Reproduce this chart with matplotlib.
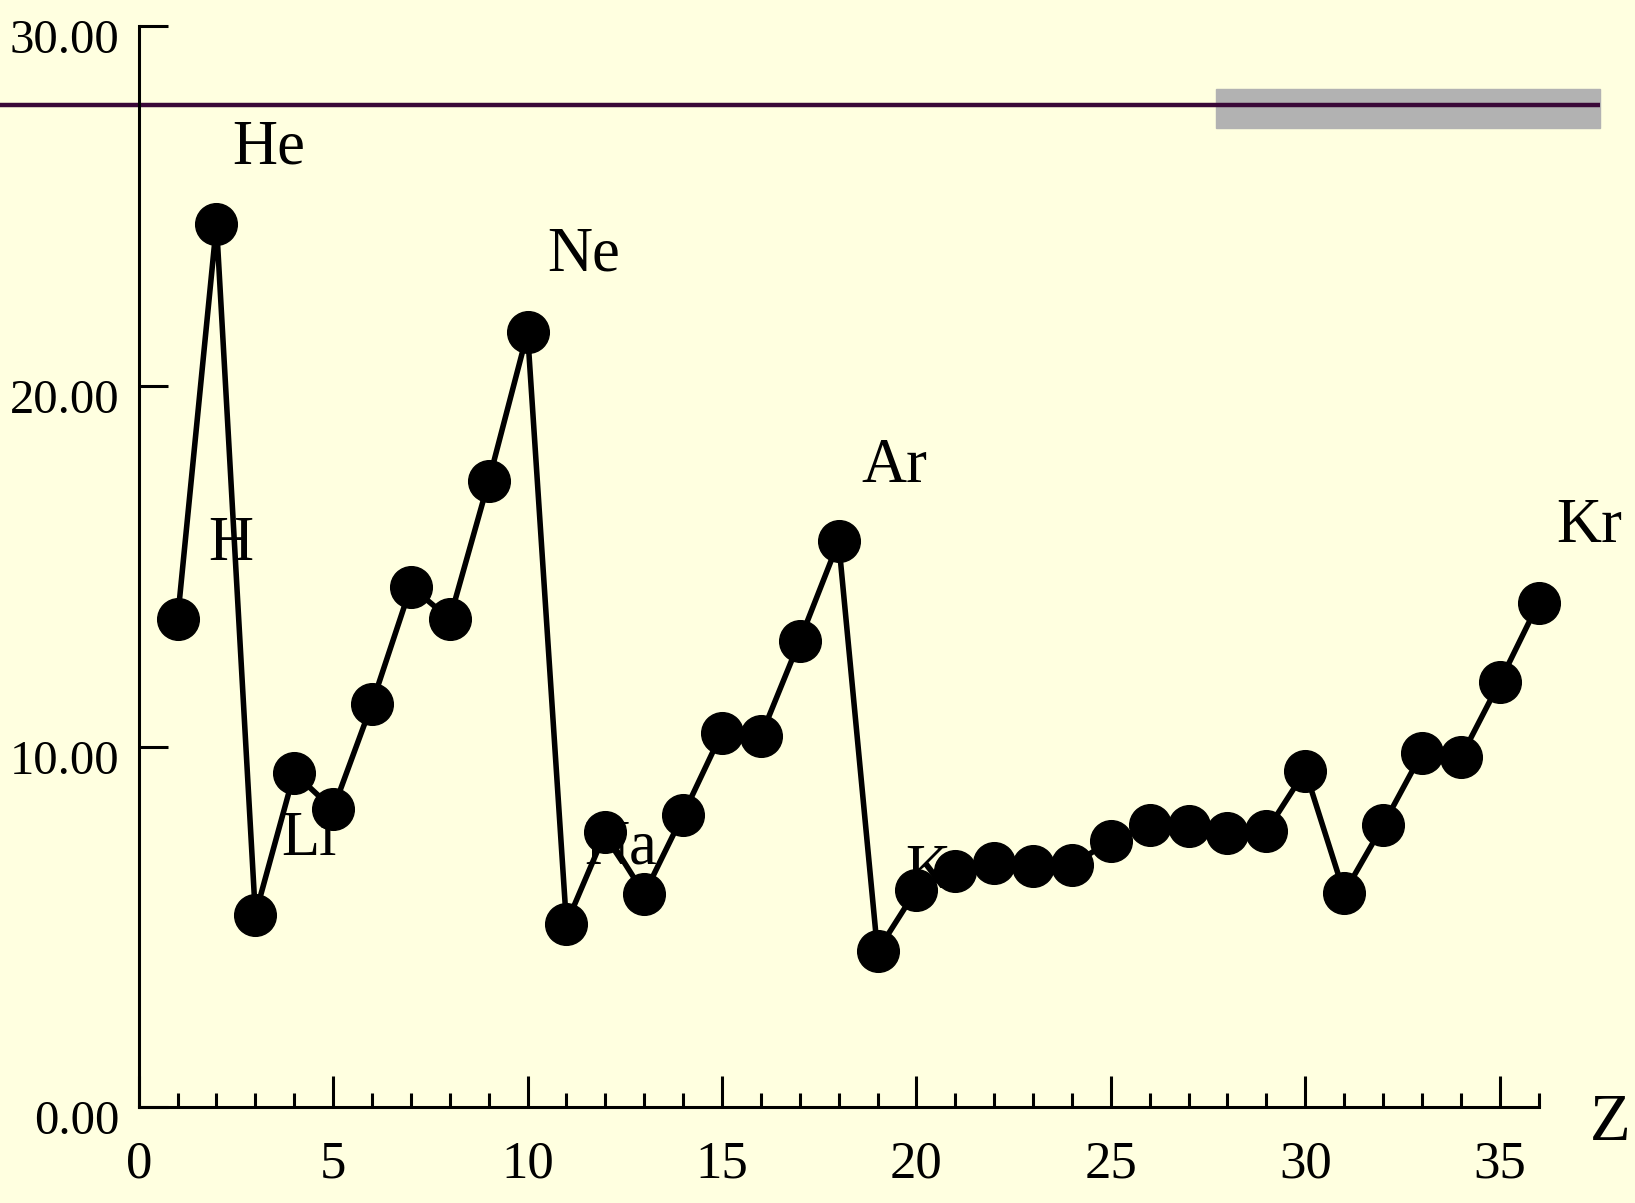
import numpy as np
import matplotlib
matplotlib.use("Agg")
import matplotlib.pyplot as plt
from matplotlib.ticker import FixedLocator, FormatStrFormatter
import matplotlib.transforms as mtransforms

# first ionization energy (eV) for Z = 1..36
z = np.arange(1, 37)
energy = [13.55, 24.5, 5.35, 9.28, 8.27, 11.2, 14.45, 13.55, 17.37, 21.5,
          5.1, 7.63, 5.92, 8.12, 10.4, 10.3, 12.95, 15.7,
          4.34, 6.04, 6.56, 6.79, 6.7, 6.73, 7.4, 7.83, 7.8, 7.6, 7.66, 9.34,
          5.95, 7.83, 9.83, 9.71, 11.8, 14.0]

# element labels and where they sit (data coords, left/baseline)
labels = ["He", "Ne", "Ar", "Kr", "H", "Li", "Na", "K"]
label_x = [2.40, 10.50, 18.58, 36.45, 1.80, 3.67, 11.45, 19.71]
label_y = [26.18, 23.21, 17.35, 15.69, 15.19, 7.00, 6.77, 6.09]

y_ticks = [0, 10, 20, 30]
x_major = np.arange(0, 36, 5)
x_minor = np.arange(0, 37, 1)
ref_level = 27.8

bg = "#FFFFE0"
serif = ["Liberation Serif", "DejaVu Serif"]

fig = plt.figure(figsize=(16.35, 12.03), dpi=100, facecolor=bg)
ax = fig.add_axes([0, 0, 1, 1], facecolor=bg)
ax.set_xlim(-3.567, 38.48)
ax.set_ylim(-2.65, 30.72)

# gray bar + purple line at the top
ax.axhspan(27.18, 28.25, xmin=(27.71 + 3.567) / 42.047, xmax=(37.59 + 3.567) / 42.047,
           color="#B2B2B2", zorder=1)
ax.plot([-3.567, 37.59], [ref_level, ref_level], color="#3A0838", lw=3.2, zorder=2,
        solid_capstyle="butt")

# element names (drawn under the markers)
for name, lx, ly in zip(labels, label_x, label_y):
    ax.text(lx, ly, name, fontsize=45, family=serif, ha="left", va="baseline",
            color="black", zorder=3)

ax.plot(z, energy, color="black", lw=4.0, marker="o", ms=30, zorder=4)

# axes styling
for side in ["top", "right"]:
    ax.spines[side].set_visible(False)
ax.spines["left"].set_position(("data", 0))
ax.spines["bottom"].set_position(("data", 0))
ax.spines["left"].set_bounds(0, 30)
ax.spines["bottom"].set_bounds(0, 36)
ax.spines["left"].set_linewidth(2.2)
ax.spines["bottom"].set_linewidth(2.2)

ax.set_yticks(y_ticks)
ax.yaxis.set_major_formatter(FormatStrFormatter("%.2f"))
ax.tick_params(axis="y", direction="in", length=21, width=2.2, pad=14,
               labelsize=35)
ax.xaxis.set_major_locator(FixedLocator(x_major))
ax.xaxis.set_minor_locator(FixedLocator(x_minor))
ax.tick_params(axis="x", which="major", direction="in", length=22, width=2.2,
               pad=24, labelsize=38)
ax.tick_params(axis="x", which="minor", direction="in", length=10, width=2.2)

for lab in ax.get_yticklabels() + ax.get_xticklabels():
    lab.set_family(serif)

# y labels sit a little below their ticks
offset = mtransforms.ScaledTranslation(0, -10 / 100, fig.dpi_scale_trans)
for lab in ax.get_yticklabels():
    lab.set_transform(lab.get_transform() + offset)

ax.text(37.33, -0.9, "Z", fontsize=48, family=serif, ha="left", va="baseline")

fig.savefig("out.png", dpi=100, facecolor=bg)
